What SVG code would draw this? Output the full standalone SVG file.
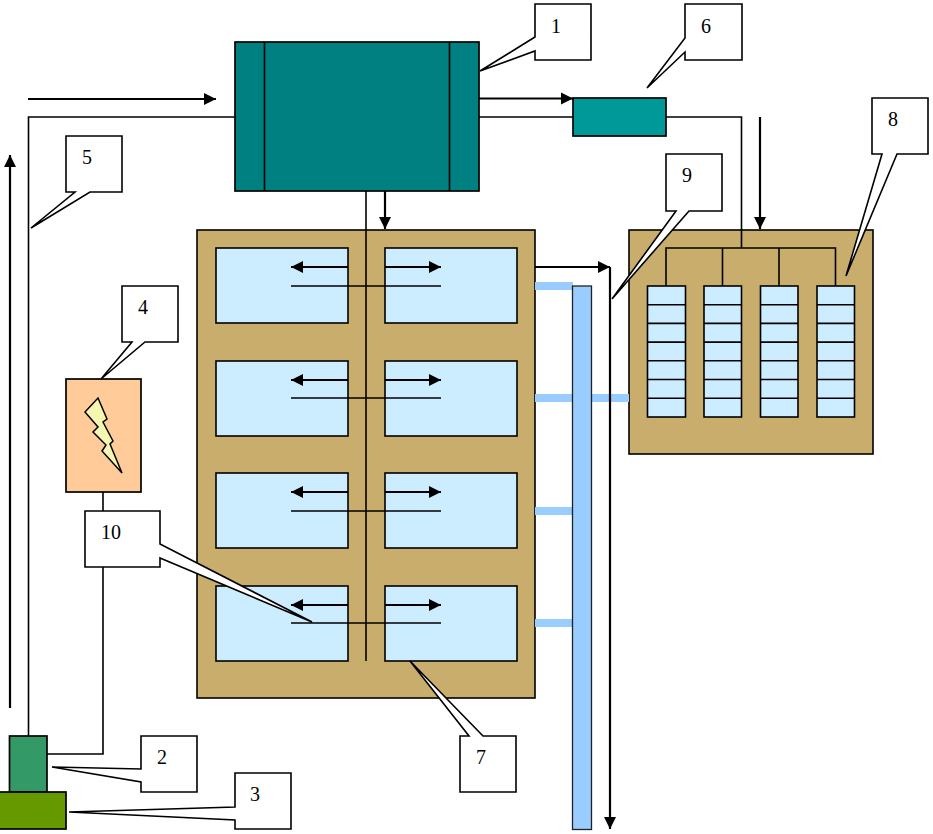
<svg xmlns="http://www.w3.org/2000/svg" width="933" height="834" viewBox="0 0 933 834">
<style>
.s{stroke:#000;stroke-width:1.7}
.l{fill:none;stroke:#000;stroke-width:1.6}
.a{fill:none;stroke:#000;stroke-width:2.2;marker-end:url(#ah)}
.c{fill:#fff;stroke:#000;stroke-width:1.6;stroke-linejoin:miter}
.t{font-family:"Liberation Serif",serif;font-size:20px;fill:#000;text-anchor:middle}
.p{fill:#CCECFF;stroke:#000;stroke-width:1.6}
.b{fill:#C8AD6D;stroke:#000;stroke-width:1.6}
.w{fill:#99CCFF}
</style>
<defs>
<marker id="ah" markerUnits="userSpaceOnUse" markerWidth="13" markerHeight="13" refX="12" refY="6.500" orient="auto"><path d="M0,0.500L12,6.500L0,12.500Z" fill="#000"/></marker>
</defs>
<rect width="933" height="834" fill="#fff"/>
<g id="node-boiler"><rect class="s" x="235" y="42" width="244" height="149" fill="#008080"/><path class="l" d="M264.500,42V191M449.500,42V191"/></g>
<g id="node-heater"><rect class="s" x="573" y="98" width="93" height="38" fill="#009999"/></g>
<g id="node-hall"><rect class="b" x="197" y="230" width="338" height="468"/>
<rect class="p" x="216" y="248" width="132" height="75"/><rect class="p" x="385" y="248" width="132" height="75"/>
<rect class="p" x="216" y="361" width="132" height="75"/><rect class="p" x="385" y="361" width="132" height="75"/>
<rect class="p" x="216" y="473" width="132" height="75"/><rect class="p" x="385" y="473" width="132" height="75"/>
<rect class="p" x="216" y="586" width="132" height="75"/><rect class="p" x="385" y="586" width="132" height="75"/></g>
<g id="node-store"><rect class="b" x="629" y="230" width="244" height="224"/>
<g id="cells">
<rect class="p" x="647.500" y="286" width="38" height="131"/><rect class="p" x="704" y="286" width="37.500" height="131"/><rect class="p" x="760.500" y="286" width="37.500" height="131"/><rect class="p" x="817" y="286" width="37.500" height="131"/>
<path class="l" d="M647.500,304.700H685.500M647.500,323.400H685.500M647.500,342.100H685.500M647.500,360.800H685.500M647.500,379.500H685.500M647.500,398.200H685.500"/>
<path class="l" d="M704,304.700H741.500M704,323.400H741.500M704,342.100H741.500M704,360.800H741.500M704,379.500H741.500M704,398.200H741.500"/>
<path class="l" d="M760.500,304.700H798M760.500,323.400H798M760.500,342.100H798M760.500,360.800H798M760.500,379.500H798M760.500,398.200H798"/>
<path class="l" d="M817,304.700H854.500M817,323.400H854.500M817,342.100H854.500M817,360.800H854.500M817,379.500H854.500M817,398.200H854.500"/>
</g></g>
<g id="node-bus"><rect class="w" x="535" y="282" width="38" height="8"/><rect class="w" x="535" y="394" width="38" height="8"/><rect class="w" x="535" y="507" width="38" height="8"/><rect class="w" x="535" y="619" width="38" height="8"/><rect class="w" x="591" y="394" width="38" height="8"/><rect x="572.500" y="286" width="19" height="543.500" fill="#99CCFF" stroke="#222" stroke-width="1.300"/></g>
<g id="node-generator"><rect class="s" x="9.500" y="736" width="37.500" height="56" fill="#339966"/></g>
<g id="node-engine"><rect class="s" x="-2" y="792" width="68" height="37" fill="#669900"/></g>
<g id="node-inverter"><rect class="s" x="66" y="379" width="75" height="113" fill="#FFCC99"/><path d="M98,398L107,419L103,422L113,441L110,444L122,473L102,451L106,445L93,432L98,427L85,412Z" fill="#F4F7B0" stroke="#000" stroke-width="1.500"/></g>
<g id="connectors">
<path class="l" d="M235,117H28.500V736"/>
<path class="a" d="M28,99H216"/>
<path class="a" d="M10,708V155"/>
<path class="a" d="M479,98.500H573"/>
<path class="l" d="M479,117H573"/>
<path class="l" d="M666,117H741.500V248"/>
<path class="a" d="M760,117V229"/>
<path class="l" d="M666,286V248H835.500V286M722.500,248V286M779,248V286"/>
<path class="a" d="M385,191V229"/>
<path class="l" d="M366,191V661"/>
<path class="a" d="M535,267H610"/>
<path class="a" d="M610,267V829"/>
<path class="l" d="M103,492V754H47"/>
<path class="a" d="M348,267H291"/><path class="a" d="M385,267H441"/><path class="l" d="M291,286H441"/>
<path class="a" d="M348,380H291"/><path class="a" d="M385,380H441"/><path class="l" d="M291,398H441"/>
<path class="a" d="M348,492H291"/><path class="a" d="M385,492H441"/><path class="l" d="M291,511H441"/>
<path class="a" d="M348,605H291"/><path class="a" d="M385,605H441"/><path class="l" d="M291,623H441"/>
</g>
<g id="callout-1"><path class="c" d="M535,4H591V60H535V51L480,71L535,37Z"/><text class="t" x="556" y="33">1</text></g>
<g id="callout-2"><path class="c" d="M141,736H197V792H141V782L52,767L141,769Z"/><text class="t" x="162" y="764">2</text></g>
<g id="callout-3"><path class="c" d="M235,773H291V829H235V820L69,812L235,807Z"/><text class="t" x="255" y="801">3</text></g>
<g id="callout-4"><path class="c" d="M122,286H178V342H145L101,379L132,342H122Z"/><text class="t" x="143" y="314">4</text></g>
<g id="callout-5"><path class="c" d="M66,136H122V192H90L31,228L75,192H66Z"/><text class="t" x="87" y="164">5</text></g>
<g id="callout-6"><path class="c" d="M685,4H742V60H685V52L647,88L685,38Z"/><text class="t" x="706" y="33">6</text></g>
<g id="callout-7"><path class="c" d="M460,736H469L410,661L483,736H516V792H460Z"/><text class="t" x="481" y="764">7</text></g>
<g id="callout-8"><path class="c" d="M872,98H928V154H897L846,276L882,154H872Z"/><text class="t" x="893" y="126">8</text></g>
<g id="callout-9"><path class="c" d="M666,154H722V211H689L612,299L676,211H666Z"/><text class="t" x="687" y="182">9</text></g>
<g id="callout-10"><path class="c" d="M85,511H160V544L312,622L160,558V567H85Z"/><text class="t" x="111" y="539">10</text></g>
</svg>
